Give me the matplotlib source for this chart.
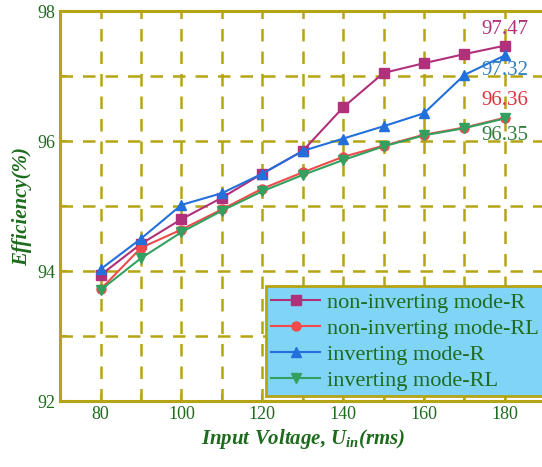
import numpy as np
import matplotlib.pyplot as plt

plt.rcParams['font.family'] = 'Liberation Serif'
plt.rcParams['mathtext.fontset'] = 'custom'
plt.rcParams['mathtext.it'] = 'Liberation Serif:italic:bold'
plt.rcParams['mathtext.rm'] = 'Liberation Serif:bold'

voltage = [80, 90, 100, 110, 120, 130, 140, 150, 160, 170, 180]
noninv_r = [93.94, 94.42, 94.80, 95.13, 95.50, 95.85, 96.52, 97.05, 97.20, 97.34, 97.47]
noninv_rl = [93.72, 94.36, 94.64, 94.95, 95.27, 95.52, 95.76, 95.93, 96.10, 96.21, 96.36]
inv_r = [94.03, 94.50, 95.02, 95.20, 95.50, 95.85, 96.04, 96.23, 96.43, 97.02, 97.32]
inv_rl = [93.71, 94.20, 94.60, 94.93, 95.23, 95.48, 95.71, 95.92, 96.09, 96.20, 96.35]

olive = '#b5a414'
green = '#1e6b1e'

fig = plt.figure(figsize=(5.42, 4.67), dpi=100)
ax = fig.add_axes([0.111, 0.141, 0.895, 0.835])

ax.plot(voltage, noninv_r, color='#b0307a', marker='s', ms=6.5, lw=1.5, label='non-inverting mode-R', zorder=3)
ax.plot(voltage, noninv_rl, color='#f04a4a', marker='o', ms=6.5, lw=1.5, label='non-inverting mode-RL', zorder=3)
ax.plot(voltage, inv_r, color='#2270dc', marker='^', ms=7.5, lw=1.5, label='inverting mode-R', zorder=3)
ax.plot(voltage, inv_rl, color='#33a060', marker='v', ms=7.5, lw=1.5, label='inverting mode-RL', zorder=3)

# end labels
ax.text(180, 97.72, '97.47', color='#b0307a', fontsize=15, ha='center', va='center')
ax.text(180, 97.08, '97.32', color='#2f7fc0', fontsize=15, ha='center', va='center')
ax.text(180, 96.63, '96.36', color='#e0303a', fontsize=15, ha='center', va='center')
ax.text(180, 96.08, '96.35', color='#2e7d3a', fontsize=15, ha='center', va='center')

ax.set_xlim(70, 190)
ax.set_ylim(92, 98)
ax.set_xticks(np.arange(80, 181, 20))
ax.set_xticks(np.arange(80, 181, 10), minor=True)
ax.set_yticks([92, 94, 96, 98])
ax.set_yticks([93, 95, 97], minor=True)
ax.grid(which='both', color=olive, linestyle=(0, (5, 4)), lw=1.8)
ax.tick_params(which='both', direction='in', color=olive, width=1.5, length=5,
               labelcolor=green, labelsize=13)
for s in ax.spines.values():
    s.set_color(olive)
    s.set_linewidth(2.2)

ax.set_xlabel('Input Voltage, $U_{in}$(rms)', fontsize=15, color=green,
              fontweight='bold', fontstyle='italic', labelpad=3)
ax.set_ylabel('Efficiency(%)', fontsize=15, color=green,
              fontweight='bold', fontstyle='italic')

leg = ax.legend(loc='lower right', bbox_to_anchor=(0.998, 0.012), fontsize=16,
                frameon=True, fancybox=False, handlelength=2.2,
                borderpad=0.25, labelspacing=0.25, handletextpad=0.3, borderaxespad=0)
leg.get_frame().set_facecolor('#80d4f6')
leg.get_frame().set_edgecolor(olive)
leg.get_frame().set_linewidth(2)
leg.get_frame().set_alpha(1)
for t in leg.get_texts():
    t.set_color(green)

fig.savefig('out.png', dpi=100)
